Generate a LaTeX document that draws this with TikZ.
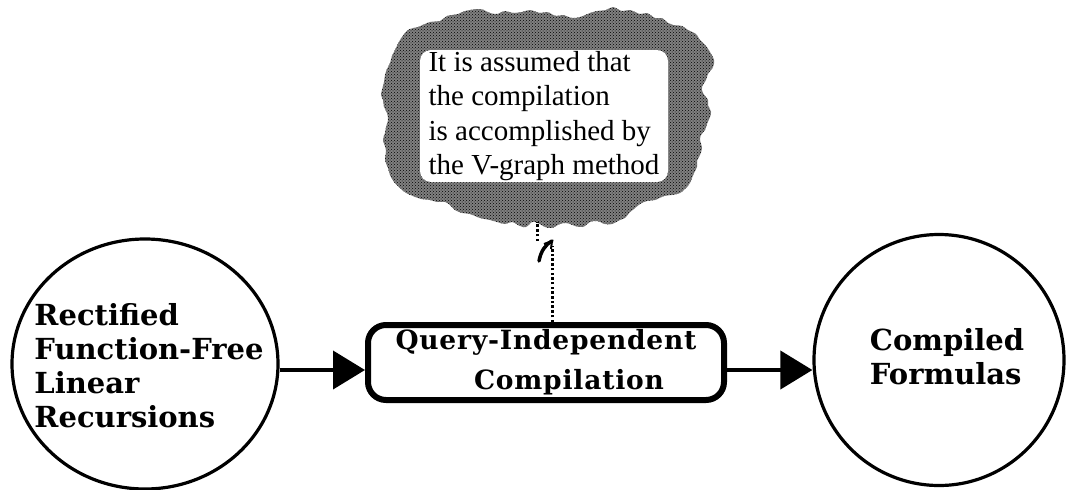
\documentclass[tikz,border=0pt]{standalone}
\usepackage{fontspec}
\setmainfont{Liberation Serif}
\newfontfamily\circfont{DejaVu Serif}
\newfontfamily\boxfont{DejaVu Serif}[LetterSpace=3]
\usetikzlibrary{arrows.meta,shapes.geometric,patterns}
\begin{document}
\begin{tikzpicture}[x=1pt,y=-1pt,
  circ/.style={ellipse, draw, line width=3.2pt, inner sep=0pt},
  circtext/.style={font=\circfont\bfseries\fontsize{29}{34}\selectfont, align=left, inner sep=0pt},
  procbox/.style={draw, rounded corners=18pt, line width=6pt, minimum width=356pt, minimum height=75pt,
     align=center, inner sep=0pt, font=\boxfont\bfseries\fontsize{26.5}{40}\selectfont},
  note/.style={fill=white, rounded corners=11pt, minimum width=248pt, minimum height=132pt, inner sep=0pt,
     align=left, font=\fontsize{29}{34.5}\selectfont},
  flow/.style={line width=4pt, -{Triangle[length=32pt,width=38pt]}},
  dotline/.style={line width=3pt, dash pattern=on 2.5pt off 2.2pt},
  cloudfill/.style={fill=black!50}
]
\useasboundingbox (0,0) rectangle (1066,490);

% cloud
\def\cloudpts{(400,40) (408,30) (418,27) (430,22) (440,21) (447,16) (458,14) (465,11) (480,9)
 (490,13) (497,14) (505,11) (513,13) (522,12) (530,10) (540,13) (547,12) (556,16)
 (563,15) (572,18) (580,17) (590,13) (597,11) (606,10) (613,7) (622,11) (630,10) (640,14) (647,13)
 (655,18) (662,18) (668,23) (673,25) (682,26) (688,30) (696,34) (700,40) (706,46)
 (710,52) (714,60) (713,67) (708,74) (706,80) (702,87) (703,93) (708,100) (708,105) (711,112) (710,117)
 (707,124) (705,130) (701,135) (700,140) (702,148) (700,155) (697,161)
 (697,167) (694,173) (692,178) (690,183) (687,187) (680,193) (672,195) (664,196) (655,200) (647,201)
 (640,204) (634,209) (630,212) (625,218) (620,220) (612,224) (605,224) (597,221)
 (590,222) (583,227) (575,226) (567,223) (560,224) (552,228) (545,227) (538,223) (532,222) (526,227) (520,226)
 (512,222) (505,224) (497,222) (490,220) (480,218) (470,214) (462,213)
 (455,210) (450,205) (445,202) (437,202) (430,200) (421,199) (413,196) (406,193) (400,188) (394,182)
 (390,175) (388,168) (385,160) (386,150) (383,140) (385,133) (386,127) (388,120)
 (387,113) (384,107) (383,100) (381,95) (382,90) (384,82) (385,75) (387,69) (390,63) (392,56) (395,50)}
\path[cloudfill] plot[smooth cycle, tension=0.55] coordinates {\cloudpts};
\path[pattern=crosshatch dots, pattern color=black] plot[smooth cycle, tension=0.55] coordinates {\cloudpts};
\node[note] (nt) at (544,116) {It is assumed that\\the compilation\\is accomplished by\\the V-graph method};

% main nodes
\node[circ, minimum width=266pt, minimum height=250pt] (lc) at (145,364) {};
\node[circtext] (lct) at (149,366) {Rectified\\Function-Free\\Linear\\Recursions};
\node[circ, minimum width=250pt, minimum height=251pt] (rc) at (939,360) {};
\node[circtext] (rct) at (947,357) {Compiled\\Formulas};
\node[procbox] (qic) at (546,362.5) {Query-Independent\\\hspace*{46pt}Compilation};

% connectors
\draw[flow] (lc.east |- 0,370) -- (qic.west |- 0,370);
\draw[flow] (qic.east |- 0,370) -- (rc.west |- 0,370);

\coordinate (j1) at (552,246);
\coordinate (j2) at (537,241);
\coordinate (cb) at (537,222);
\draw[dotline] (qic.north -| j1) -- (j1);
\draw[line width=3.5pt, line cap=round] (539,261) .. controls (541,251) and (545,245) .. (552,241);
\draw[line width=2pt] (544,244) -- (552,241) -- (551,249);
\draw[dotline] (j2) -- (cb);
\end{tikzpicture}
\end{document}
